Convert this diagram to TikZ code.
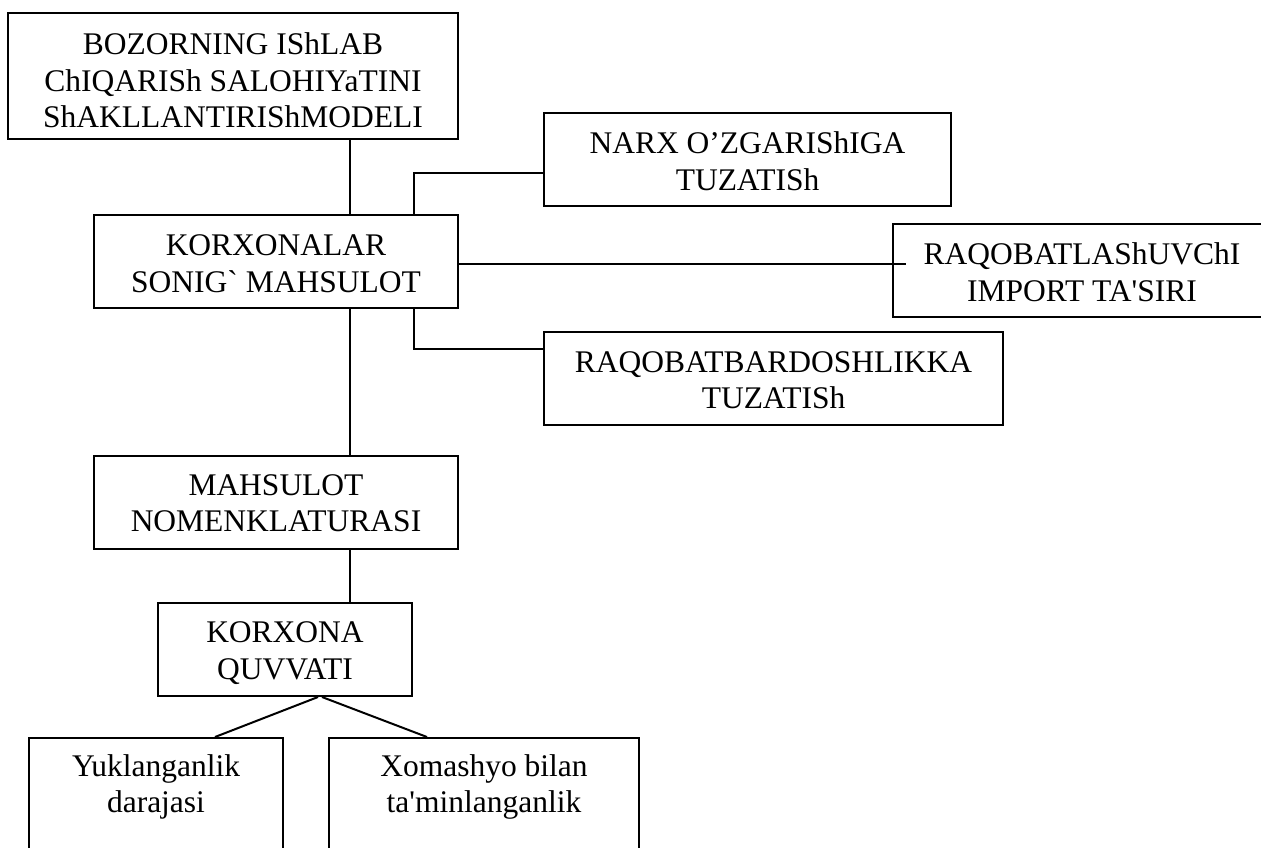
\documentclass[tikz,border=0pt]{standalone}
\usepackage{fontspec}
\setmainfont{Liberation Serif}
\begin{document}
\begin{tikzpicture}[x=1pt,y=-1pt,
  box/.style={draw, line width=2pt, inner sep=0pt, anchor=north west, align=center,
    font=\fontsize{31.5pt}{36.7pt}\selectfont},
  conn/.style={line width=2pt}]
\useasboundingbox (0,0) rectangle (1261,847);
\clip (0,0) rectangle (1261,847);

\node[box, minimum width=450pt, text height=114.7pt, text depth=11.3pt] (model) at (7,12)
  {BOZORNING IShLAB\\ChIQARISh SALOHIYaTINI\\ShAKLLANTIRIShMODELI};
\node[box, minimum width=407pt, text height=77pt, text depth=16pt] (narx) at (543,112)
  {NARX O’ZGARIShIGA\\TUZATISh};
\node[box, minimum width=364pt, text height=77pt, text depth=16pt] (korx) at (93,214)
  {KORXONALAR\\SONIG\textasciigrave\ MAHSULOT};
\node[box, minimum width=378pt, text height=77pt, text depth=16pt] (imp) at (892,223)
  {RAQOBATLAShUVChI\\IMPORT TA\textquotesingle SIRI};
\node[box, minimum width=459pt, text height=76.7pt, text depth=16.3pt] (bard) at (543,331)
  {RAQOBATBARDOSHLIKKA\\TUZATISh};
\node[box, minimum width=364pt, text height=75.7pt, text depth=17.3pt] (nom) at (93,455)
  {MAHSULOT\\NOMENKLATURASI};
\node[box, minimum width=254pt, text height=76.4pt, text depth=16.6pt] (kq) at (157,602)
  {KORXONA\\QUVVATI};
\node[box, minimum width=254pt, text height=74.7pt, text depth=51.3pt] (yuk) at (28,737)
  {Yuklanganlik\\darajasi};
\node[box, minimum width=310pt, text height=74.7pt, text depth=51.3pt] (xom) at (328,737)
  {Xomashyo bilan\\ta\textquotesingle minlanganlik};

\coordinate (impend) at ([xshift=14pt]imp.west);

\draw[conn] (model.south -| 350,0) -- (korx.north -| 350,0);
\draw[conn] (korx.north -| 414,0) |- (narx.west |- 0,173);
\draw[conn] (korx.east |- 0,264) -- (impend |- 0,264);
\draw[conn] (korx.south -| 414,0) |- (bard.west |- 0,349);
\draw[conn] (korx.south -| 350,0) -- (nom.north -| 350,0);
\draw[conn] (nom.south -| 350,0) -- (kq.north -| 350,0);
\draw[conn] (kq.south -| 318,0) -- (yuk.north -| 215,0);
\draw[conn] (kq.south -| 322,0) -- (xom.north -| 427,0);
\end{tikzpicture}
\end{document}
